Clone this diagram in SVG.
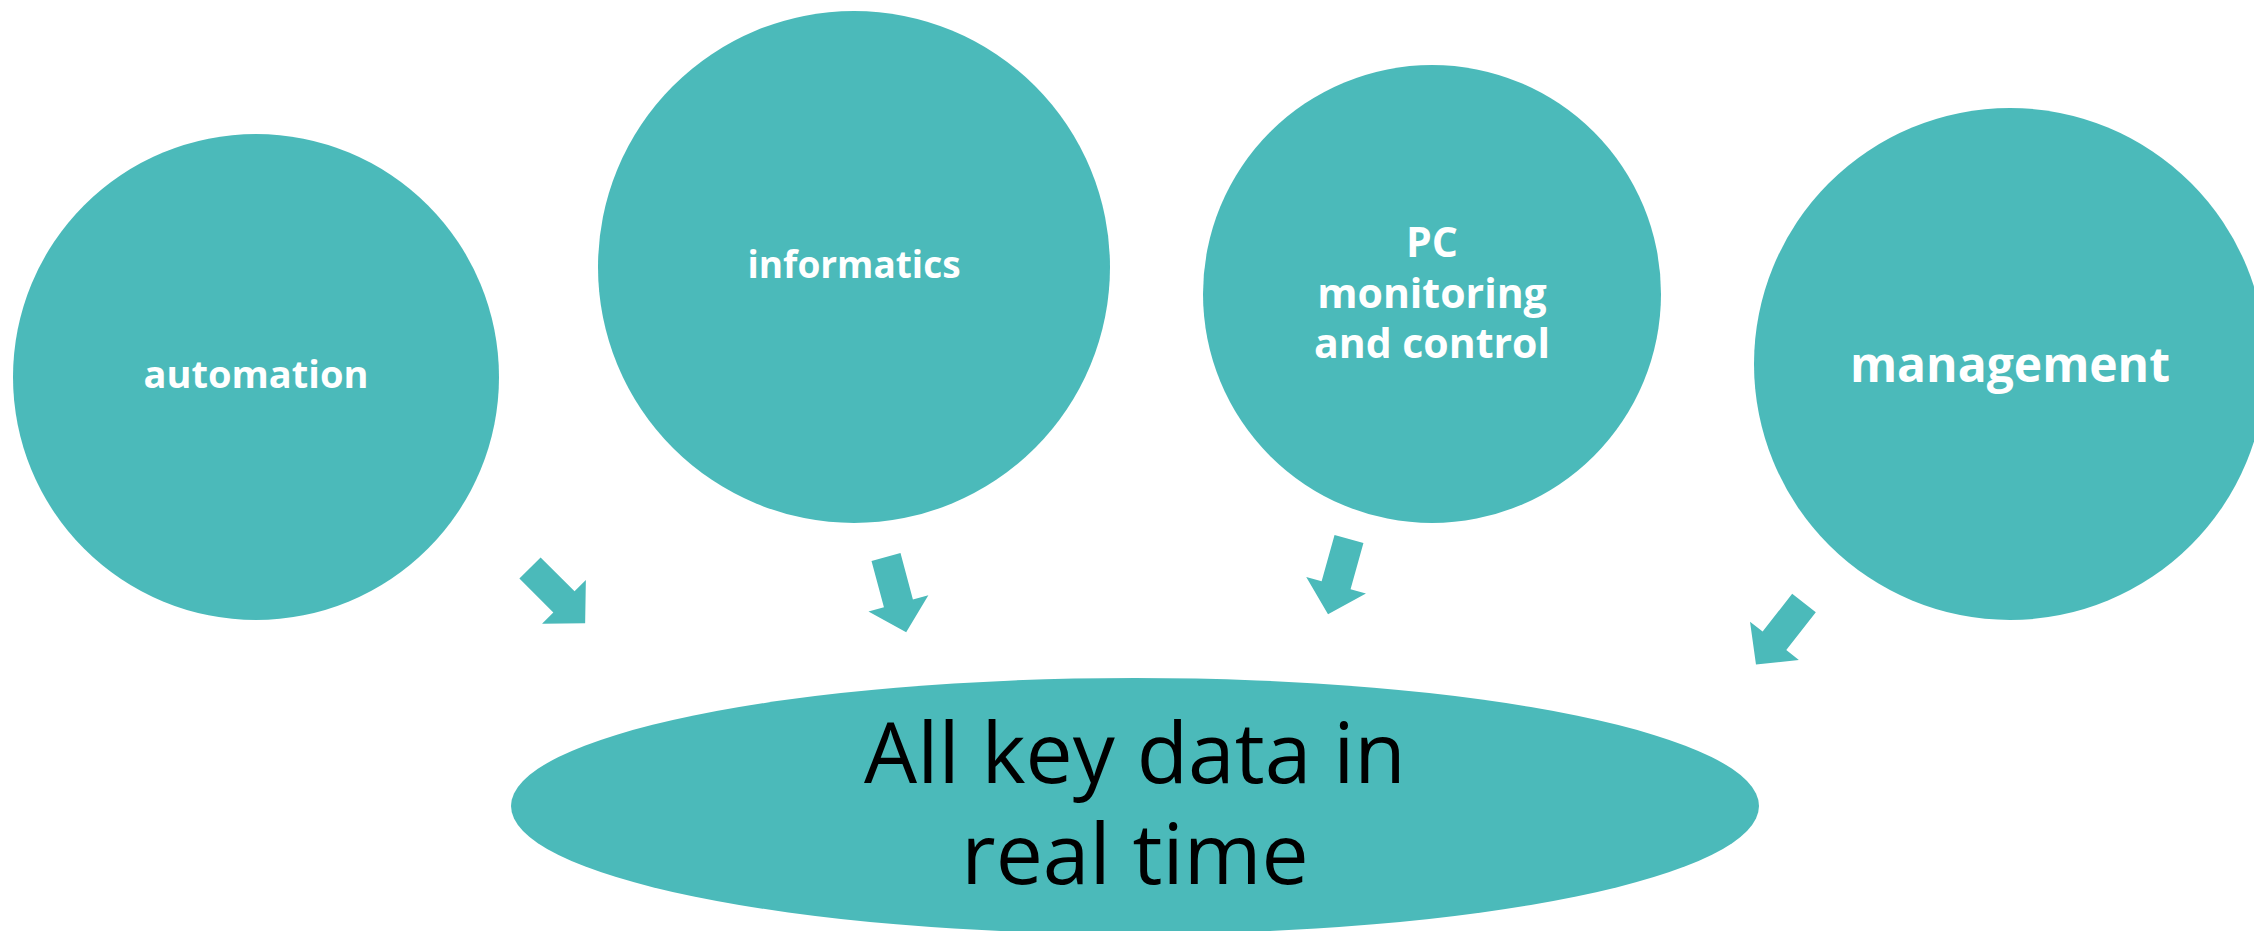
<svg xmlns="http://www.w3.org/2000/svg" width="2254" height="931" viewBox="0 0 2254 931">
<style>
.shape{fill:#4BBABA}
.lbl{fill:#FFFFFF;font-family:"Open Sans","Liberation Sans",sans-serif;font-weight:700;text-anchor:middle}
.big{fill:#000000;font-family:"Open Sans","Liberation Sans",sans-serif;font-weight:400;text-anchor:middle;font-size:84px}
</style>
<defs>
<polygon id="arr" points="0,-15 48,-15 48,-31 78,0 48,31 48,15 0,15"/>
</defs>
<rect width="2254" height="931" fill="#FFFFFF"/>
<g id="connectors" class="shape">
<use href="#arr" transform="translate(530,568) rotate(45)"/>
<use href="#arr" transform="translate(886,557) rotate(75)"/>
<use href="#arr" transform="translate(1349,539) rotate(105.6)"/>
<use href="#arr" transform="translate(1804,603) rotate(128)"/>
</g>
<g id="node-automation">
<circle class="shape" cx="256" cy="377" r="243"/>
<text class="lbl" x="256" y="388" font-size="38">automation</text>
</g>
<g id="node-informatics">
<circle class="shape" cx="854" cy="267" r="256"/>
<text class="lbl" x="854" y="278" font-size="37">informatics</text>
</g>
<g id="node-pc">
<circle class="shape" cx="1432" cy="294" r="229"/>
<text class="lbl" font-size="41"><tspan x="1432" y="257">PC</tspan><tspan x="1432" y="308">monitoring</tspan><tspan x="1432" y="358">and control</tspan></text>
</g>
<g id="node-management">
<circle class="shape" cx="2010" cy="364" r="256"/>
<text class="lbl" x="2010" y="382" font-size="48">management</text>
</g>
<g id="node-data">
<ellipse class="shape" cx="1135" cy="806" rx="624" ry="128"/>
<text class="big"><tspan x="1135" y="783">All key data in</tspan><tspan x="1135" y="884">real time</tspan></text>
</g>
</svg>
